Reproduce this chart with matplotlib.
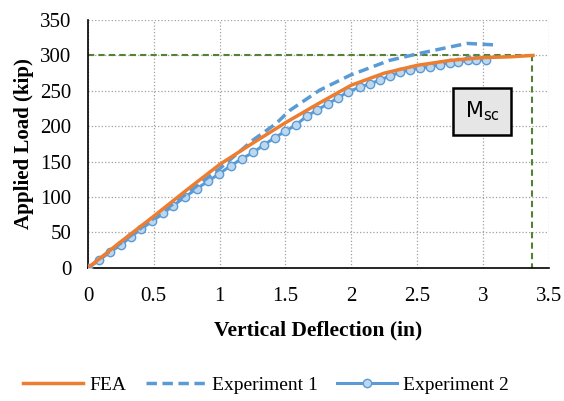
import matplotlib.pyplot as plt
from matplotlib.lines import Line2D

plt.rcParams['font.family'] = ['Liberation Serif', 'DejaVu Serif']

# FEA curve
fea_x = [0, 0.25, 0.5, 0.75, 1.0, 1.25, 1.5, 1.75, 2.0, 2.25, 2.5, 2.75, 3.0, 3.2, 3.38]
fea_y = [0, 37, 73, 110, 146, 176, 205, 232, 258, 275, 286, 293, 297, 298, 300]

# Experiment 1 (dashed)
exp1_x = [0, 0.25, 0.5, 0.75, 1.0, 1.25, 1.43, 1.53, 1.76, 1.99, 2.29, 2.52, 2.75, 2.88, 3.08]
exp1_y = [0, 35, 70, 105, 140, 180, 204, 222, 251, 272, 293, 303, 312, 317, 315]

# Experiment 2 (markers)
exp2_x = [0, 0.086, 0.165, 0.248, 0.326, 0.405, 0.489, 0.572, 0.648, 0.737, 0.826,
          0.91, 0.997, 1.083, 1.167, 1.255, 1.339, 1.42, 1.50, 1.58, 1.66, 1.741,
          1.825, 1.90, 1.977, 2.065, 2.14, 2.217, 2.293, 2.37, 2.445, 2.52, 2.597,
          2.673, 2.749, 2.81, 2.888, 2.95, 3.02]
exp2_y = [0, 11, 22, 32, 44, 55, 66, 77, 88, 100, 112, 122, 133, 144, 154, 163, 174,
          184, 193, 202, 214, 223, 232, 240, 249, 255, 260, 265, 271, 276, 280, 282,
          284, 287, 290, 291, 293, 293, 294]

msc_load = 300
msc_defl = 3.37

orange = '#ED7D31'
blue = '#5B9BD5'
green = '#548235'

fig = plt.figure(figsize=(5.64, 4.01), dpi=100)
ax = fig.add_axes([0.156, 0.332, 0.817, 0.618])

ax.plot([0, msc_defl], [msc_load, msc_load], color=green, ls=(0, (3, 2)), lw=1.5, zorder=2)
ax.plot([msc_defl, msc_defl], [msc_load, 0], color=green, ls=(0, (3, 2)), lw=1.5, zorder=2)

ax.plot(exp2_x, exp2_y, color=blue, lw=2.2, marker='o', ms=6,
        mfc='#BDD7EE', mec=blue, mew=1, zorder=3)
ax.plot(exp1_x, exp1_y, color=blue, lw=2.5, ls=(0, (3, 1.6)), zorder=4)
ax.plot(fea_x, fea_y, color=orange, lw=2.5, zorder=5)

ax.text(2.995, 221, r'M$_{\rm sc}$', family='DejaVu Sans', fontsize=15,
        ha='center', va='center', zorder=6,
        bbox=dict(boxstyle='square,pad=0.55', facecolor='#E7E6E6',
                  edgecolor='black', linewidth=1.8))

ax.set_xlim(0, 3.5)
ax.set_ylim(0, 350)
ax.set_xticks([0, 0.5, 1, 1.5, 2, 2.5, 3, 3.5])
ax.set_xticklabels(['0', '0.5', '1', '1.5', '2', '2.5', '3', '3.5'])
ax.set_yticks(range(0, 351, 50))
ax.tick_params(length=0, labelsize=15)
ax.tick_params(axis='x', pad=13.5)
ax.tick_params(axis='y', pad=12)
ax.grid(True, color='#A0A0A0', ls=':', lw=0.9)
ax.set_axisbelow(True)
for s in ['top', 'right']:
    ax.spines[s].set_visible(False)
ax.spines['left'].set_linewidth(1.2)
ax.spines['bottom'].set_linewidth(1.2)

ax.set_xlabel('Vertical Deflection (in)', fontsize=15.5, fontweight='bold', labelpad=11)
ax.set_ylabel('Applied Load (kip)', fontsize=15, fontweight='bold', labelpad=4.5)

handles = [
    Line2D([], [], color=orange, lw=2.5),
    Line2D([], [], color=blue, lw=2.5, ls=(0, (3, 1.6))),
    Line2D([], [], color=blue, lw=2.2, marker='o', ms=6, mfc='#BDD7EE', mec=blue),
]
fig.legend(handles, ['FEA', 'Experiment 1', 'Experiment 2'], loc='center',
           bbox_to_anchor=(0.472, 0.04), ncol=3, frameon=False, fontsize=14,
           handlelength=3.1, columnspacing=1.0, handletextpad=0.3)

fig.savefig('out.png', dpi=100)
